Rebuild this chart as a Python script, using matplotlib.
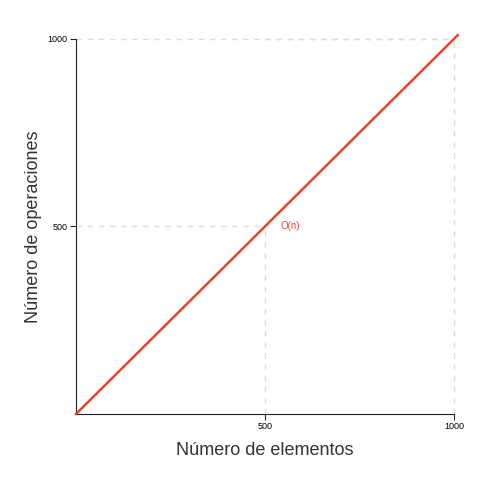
import numpy as np
import matplotlib.pyplot as plt

plt.rcParams['font.family'] = ['Liberation Sans', 'DejaVu Sans']

n = [0, 1010]
ops = [0, 1010]
ticks = [500, 1000]
tick_labels = ["500", "1000"]
line_color = "#e8462a"
grid_color = "#dddddd"

fig = plt.figure(figsize=(4.87, 4.87), dpi=100)
ax = fig.add_axes([0.156, 0.150, 0.776, 0.770])

# guide lines
for t in ticks:
    ax.plot([t, t], [0, t], ls=(0, (4, 4)), color=grid_color, lw=1, zorder=1, clip_on=False)
    ax.plot([0, t], [t, t], ls=(0, (4, 4)), color=grid_color, lw=1, zorder=1, clip_on=False)
ax.plot([500, 1000], [1000, 1000], ls=(0, (4, 4)), color=grid_color, lw=1, zorder=1, clip_on=False)

ax.plot(n, ops, color=line_color, lw=1.8, clip_on=False, zorder=3)
ax.text(540, 500, "O(n)", color=line_color, fontsize=7, ha='left', va='center')

ax.set_xlim(0, 1000)
ax.set_ylim(0, 1000)
ax.set_xticks(ticks)
ax.set_xticklabels(tick_labels)
ax.set_yticks(ticks)
ax.set_yticklabels(tick_labels)
ax.tick_params(labelsize=6.5, length=4, width=0.8, color="#222222", pad=2)
for s in ['top', 'right']:
    ax.spines[s].set_visible(False)
for s in ['left', 'bottom']:
    ax.spines[s].set_color("#222222")
    ax.spines[s].set_linewidth(0.8)

ax.set_xlabel("Número de elementos", fontsize=13, color="#333333", labelpad=8)
ax.set_ylabel("Número de operaciones", fontsize=13, color="#333333", labelpad=4)

fig.savefig("out.png", dpi=100)
